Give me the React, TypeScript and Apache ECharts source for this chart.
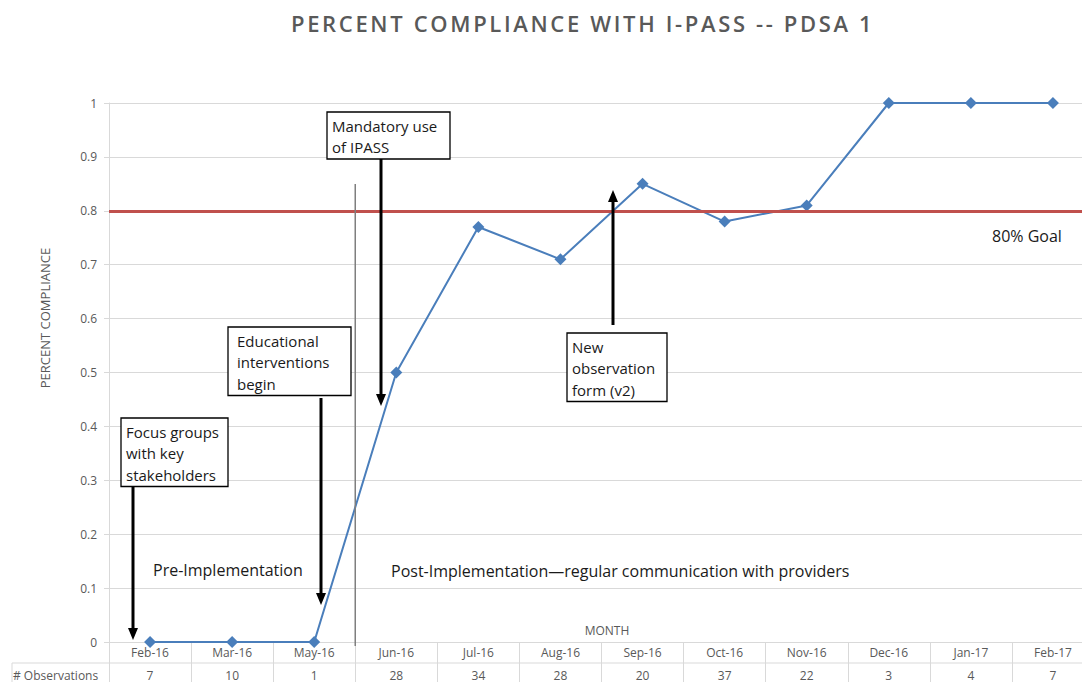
import React, { useEffect, useRef } from "react";
import * as echarts from "echarts";

const months = ["Feb-16", "Mar-16", "May-16", "Jun-16", "Jul-16", "Aug-16", "Sep-16", "Oct-16", "Nov-16", "Dec-16", "Jan-17", "Feb-17"];
const compliance = [0, 0, 0, 0.5, 0.77, 0.71, 0.85, 0.78, 0.81, 1, 1, 1];
const observations = [7, 10, 1, 28, 34, 28, 20, 37, 22, 3, 4, 7];
const goal = 0.8;
const yTicks = [0, 0.1, 0.2, 0.3, 0.4, 0.5, 0.6, 0.7, 0.8, 0.9, 1];

const FONT = "'Open Sans', 'Noto Sans', sans-serif";
const GREY = "#595959";
const INK = "#1a1a1a";

export default function App() {
  const ref = useRef<HTMLDivElement>(null);
  useEffect(() => {
    const chart = echarts.init(ref.current!, null, { renderer: "svg" });
    chart.setOption({
      animation: false,
      title: {
        text: "PERCENT COMPLIANCE WITH I-PASS -- PDSA 1",
        left: 286,
        top: 7,
        textStyle: { fontFamily: FONT, fontSize: 22, fontWeight: 600, color: GREY },
      },
      grid: { left: 109, right: 6, top: 103, bottom: 40 },
      xAxis: {
        type: "category",
        data: months,
        boundaryGap: true,
        axisLine: { show: true, lineStyle: { color: "#d9d9d9" } },
        axisTick: { show: true, interval: 0, length: 40, lineStyle: { color: "#d9d9d9" } },
        axisLabel: { fontFamily: FONT, fontSize: 12, color: GREY, margin: 4, interval: 0 },
        splitLine: { show: false },
      },
      yAxis: {
        type: "value",
        min: 0,
        max: 1,
        interval: 0.1,
        axisLine: { show: true, lineStyle: { color: "#d9d9d9" } },
        axisTick: { show: true, length: 5, lineStyle: { color: "#d9d9d9" } },
        axisLabel: {
          fontFamily: FONT,
          fontSize: 12,
          color: GREY,
          margin: 12,
          formatter: (v: number) => {
            const t = yTicks.find((k) => Math.abs(k - v) < 1e-6);
            return String(t !== undefined ? t : +v.toFixed(1));
          },
        },
        splitLine: { show: true, lineStyle: { color: "#d9d9d9" } },
      },
      series: [
        {
          type: "line",
          data: compliance,
          symbol: "diamond",
          symbolSize: 12,
          itemStyle: { color: "#4a7ebb" },
          lineStyle: { color: "#4a7ebb", width: 2 },
          z: 3,
          markLine: {
            silent: true,
            symbol: "none",
            label: { show: false },
            lineStyle: { color: "#c0504d", width: 3, type: "solid" },
            data: [{ yAxis: goal }],
          },
        },
      ],
    });

    const px = (i: number, v: number) => chart.convertToPixel({ gridIndex: 0 }, [i, v]) as number[];
    const y0 = px(0, 0)[1];
    const yGoal = px(0, goal)[1];
    const sepX = (px(2, 0)[0] + px(3, 0)[0]) / 2;
    const tableY = 675;
    const step = px(1, 0)[0] - px(0, 0)[0];
    const rightEdge = px(months.length - 1, 0)[0] + step / 2;

    const box = (x: number, y: number, w: number, pad: number, lines: string[]) => ({
      type: "group",
      children: [
        {
          type: "rect",
          shape: { x, y, width: w, height: lines.length * 21.5 + 4 },
          style: { fill: "#fff", stroke: "#000", lineWidth: 1.3 },
          z: 20,
        },
        {
          type: "text",
          x: x + pad,
          y: y + 3,
          style: {
            text: lines.join("\n"),
            fontFamily: FONT,
            fontSize: 15,
            lineHeight: 21.5,
            fill: INK,
          },
          z: 21,
        },
      ],
    });
    const arrow = (x: number, yFrom: number, yTo: number) => {
      const dir = yTo > yFrom ? 1 : -1;
      return {
        type: "group",
        children: [
          {
            type: "line",
            shape: { x1: x, y1: yFrom, x2: x, y2: yTo - dir * 10 },
            style: { stroke: "#000", lineWidth: 3 },
            z: 19,
          },
          {
            type: "polygon",
            shape: { points: [[x - 5, yTo - dir * 12], [x + 5, yTo - dir * 12], [x, yTo]] },
            style: { fill: "#000" },
            z: 19,
          },
        ],
      };
    };

    chart.setOption({
      graphic: [
        {
          type: "text",
          x: 45,
          y: 318,
          rotation: Math.PI / 2,
          style: {
            text: "PERCENT COMPLIANCE",
            fontFamily: FONT,
            fontSize: 13,
            fill: GREY,
            align: "center",
            verticalAlign: "middle",
          },
        },
        {
          type: "text",
          x: 607,
          y: 630,
          style: {
            text: "MONTH",
            fontFamily: FONT,
            fontSize: 12,
            fill: GREY,
            align: "center",
            verticalAlign: "middle",
          },
        },
        {
          type: "line",
          shape: { x1: sepX, y1: 184, x2: sepX, y2: y0 + 4 },
          style: { stroke: "#7f7f7f", lineWidth: 1.5 },
          z: 5,
        },
        {
          type: "text",
          x: 992,
          y: yGoal + 25,
          style: {
            text: "80% Goal",
            fontFamily: FONT,
            fontSize: 16,
            fill: INK,
            verticalAlign: "middle",
          },
          z: 5,
        },
        {
          type: "text",
          x: 153,
          y: 570,
          style: {
            text: "Pre-Implementation",
            fontFamily: FONT,
            fontSize: 16,
            fill: INK,
            verticalAlign: "middle",
          },
          z: 5,
        },
        {
          type: "text",
          x: 391,
          y: 571,
          style: {
            text: "Post-Implementation\u2014regular communication with providers",
            fontFamily: FONT,
            fontSize: 16,
            fill: INK,
            verticalAlign: "middle",
          },
          z: 5,
        },
        box(121, 418, 107, 5, ["Focus groups", "with key", "stakeholders"]),
        arrow(133, 486, 640),
        box(228, 327, 123, 9, ["Educational", "interventions", "begin"]),
        arrow(321, 398, 605),
        box(327, 112, 123, 5, ["Mandatory use", "of IPASS"]),
        arrow(381, 158, 406),
        box(567, 333, 100, 5, ["New", "observation", "form (v2)"]),
        arrow(613, 325, 190),
        // observations table
        {
          type: "line",
          shape: { x1: 12, y1: 663, x2: rightEdge, y2: 663 },
          style: { stroke: "#d9d9d9", lineWidth: 1 },
        },
        {
          type: "line",
          shape: { x1: 12, y1: 663, x2: 12, y2: 682 },
          style: { stroke: "#d9d9d9", lineWidth: 1 },
        },
        {
          type: "text",
          x: 13,
          y: tableY,
          style: {
            text: "# Observations",
            fontFamily: FONT,
            fontSize: 12,
            fill: GREY,
            verticalAlign: "middle",
          },
        },
        ...observations.map((n, i) => ({
          type: "text",
          x: px(i, 0)[0],
          y: tableY,
          style: {
            text: String(n),
            fontFamily: FONT,
            fontSize: 12,
            fill: GREY,
            align: "center",
            verticalAlign: "middle",
          },
        })),
      ],
    });
    return () => chart.dispose();
  }, []);
  return (
    <div
      className="chart-wrap"
      style={{ position: "absolute", left: 0, top: 0, width: 1082, height: 682, overflow: "hidden", background: "#fff" }}
    >
      <style>{`.chart-wrap svg text[style*="22px"] { letter-spacing: 2.65px; }`}</style>
      <div ref={ref} style={{ width: 1100, height: 682 }} />
    </div>
  );
}
